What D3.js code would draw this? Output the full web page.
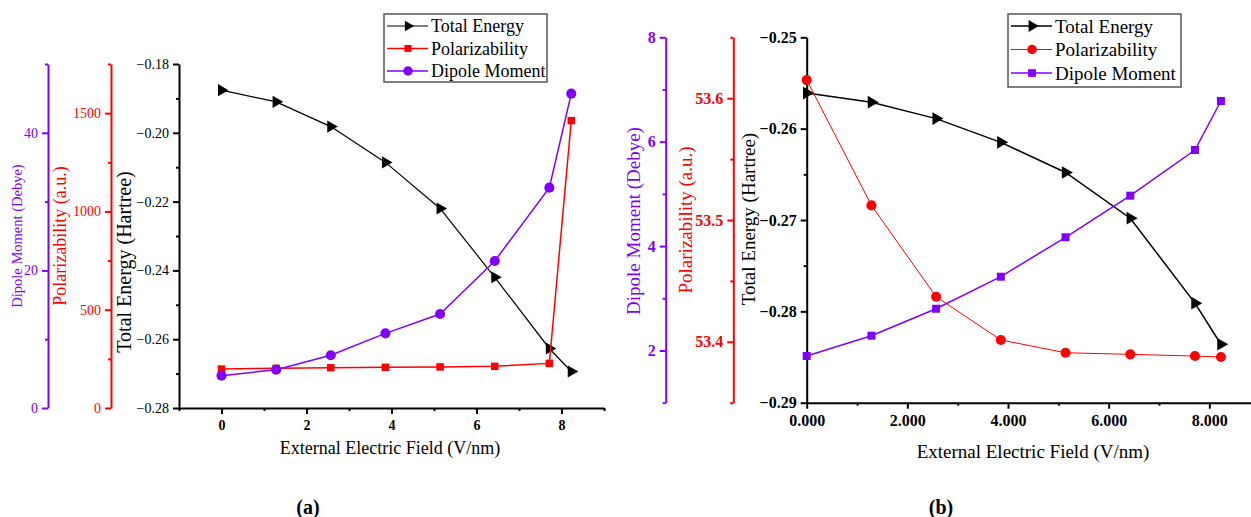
<!DOCTYPE html>
<html>
<head>
<meta charset="utf-8">
<script src="https://cdn.jsdelivr.net/npm/d3@7"></script>
<style>
  body { margin: 0; background: #fff; }
  svg, svg text { font-family: "Liberation Serif", "Times New Roman", Times, Tinos, "DejaVu Serif", "Noto Serif", serif; }
</style>
</head>
<body>
<svg id="chart" width="1251" height="517"></svg>
<script>
// Field values (V/nm), same for both panels
const field = [0, 1.286, 2.571, 3.857, 5.143, 6.429, 7.714, 8.23];

// Panel (a)
const energyA = [-0.1876, -0.1910, -0.1982, -0.2086, -0.2220, -0.2420, -0.2627, -0.2694];
const polarA = [198, 202, 205, 207, 209, 212, 227, 1462];
const dipoleA = [4.7, 5.57, 7.66, 10.85, 13.66, 21.37, 32.03, 45.69];

// Panel (b)
const energyB = [-0.2561, -0.2571, -0.2589, -0.2615, -0.2648, -0.2698, -0.2791, -0.2836];
const polarB = [53.615, 53.512, 53.437, 53.4015, 53.391, 53.3897, 53.3883, 53.3875];
const dipoleB = [1.895, 2.284, 2.80, 3.414, 4.169, 4.966, 5.841, 6.78];

// Tick values
const xTicksA = [0, 2, 4, 6, 8];
const energyTicksA = [-0.28, -0.26, -0.24, -0.22, -0.20, -0.18];
const polarTicksA = [0, 500, 1000, 1500];
const dipoleTicksA = [0, 20, 40];
const xTicksB = [0, 2, 4, 6, 8];
const energyTicksB = [-0.29, -0.28, -0.27, -0.26, -0.25];
const polarTicksB = [53.4, 53.5, 53.6];
const dipoleTicksB = [2, 4, 6, 8];

const seriesNames = ["Total Energy", "Polarizability", "Dipole Moment"];

const BLACK = "#000";
const RED = "#ff0000";
const PURPLE = "#8000ff";
const SERIF = '"Liberation Serif", "Times New Roman", Times, Tinos, "DejaVu Serif", "Noto Serif", serif';

const svg = d3.select("#chart");

// helper: y axis with major + minor ticks
function yAxis(g, scale, x, color, majors, minors, fmt, font, bold) {
  const ax = g.append("g").attr("transform", `translate(${x},0)`);
  ax.call(d3.axisLeft(scale).tickValues(majors).tickFormat(fmt).tickSize(6).tickSizeOuter(0).tickPadding(4));
  const mn = g.append("g").attr("transform", `translate(${x},0)`);
  mn.call(d3.axisLeft(scale).tickValues(minors).tickFormat("").tickSize(3).tickSizeOuter(0));
  mn.select(".domain").remove();
  [ax, mn].forEach((a) => {
    a.attr("font-family", SERIF);
    a.selectAll("path,line").attr("stroke", color).attr("stroke-width", 2);
  });
  ax.selectAll("text")
    .attr("fill", color)
    .attr("font-family", SERIF)
    .style("font-size", font + "px")
    .style("font-weight", bold ? "bold" : "normal");
}

function xAxis(g, scale, y, majors, minors, fmt, font) {
  const ax = g.append("g").attr("transform", `translate(0,${y})`);
  ax.call(d3.axisBottom(scale).tickValues(majors).tickFormat(fmt).tickSize(6).tickSizeOuter(0).tickPadding(6));
  const mn = g.append("g").attr("transform", `translate(0,${y})`);
  mn.call(d3.axisBottom(scale).tickValues(minors).tickFormat("").tickSize(3).tickSizeOuter(0));
  mn.select(".domain").remove();
  [ax, mn].forEach((a) => {
    a.attr("font-family", SERIF);
    a.selectAll("path,line").attr("stroke", BLACK).attr("stroke-width", 2);
  });
  ax.selectAll("text")
    .attr("fill", BLACK)
    .attr("font-family", SERIF)
    .style("font-size", font + "px")
    .style("font-weight", "bold");
}

function vTitle(g, x, y, text, color, font) {
  g.append("text")
    .attr("transform", `translate(${x},${y}) rotate(-90)`)
    .attr("text-anchor", "middle")
    .attr("dy", "0.35em")
    .attr("fill", color)
    .attr("font-family", SERIF)
    .style("font-size", font + "px")
    .text(text);
}

function marker(type, size) {
  const sym = type === "tri" ? d3.symbolTriangle : type === "sq" ? d3.symbolSquare : d3.symbolCircle;
  return d3.symbol().type(sym).size(size)();
}

function drawSeries(g, xs, ys, values, color, type, size, width) {
  const line = d3.line().x((d, i) => xs(field[i])).y((d) => ys(d));
  g.append("path")
    .datum(values)
    .attr("fill", "none")
    .attr("stroke", color)
    .attr("stroke-width", width)
    .attr("d", line);
  g.selectAll(null)
    .data(values)
    .enter()
    .append("path")
    .attr("d", marker(type, size))
    .attr("fill", color)
    .attr("transform", (d, i) => `translate(${xs(field[i])},${ys(d)})` + (type === "tri" ? " rotate(90)" : ""));
}

function legend(g, x, y, w, h, rowGap, items, font) {
  g.append("rect")
    .attr("x", x).attr("y", y).attr("width", w).attr("height", h)
    .attr("fill", "#fff").attr("stroke", "#555").attr("stroke-width", 1.5);
  items.forEach((it, i) => {
    const cy = y + 12 + i * rowGap;
    g.append("line")
      .attr("x1", x + 3).attr("x2", x + 44).attr("y1", cy).attr("y2", cy)
      .attr("stroke", it.color).attr("stroke-width", it.width);
    g.append("path")
      .attr("d", marker(it.type, it.size))
      .attr("fill", it.color)
      .attr("transform", `translate(${x + 24},${cy})` + (it.type === "tri" ? " rotate(90)" : ""));
    g.append("text")
      .attr("x", x + 47).attr("y", cy).attr("dy", "0.35em")
      .attr("font-family", SERIF)
      .style("font-size", font + "px")
      .text(seriesNames[i]);
  });
}

// ---------- Panel (a) ----------
{
  const g = svg.append("g");
  const top = 64, bottom = 408;
  const x = d3.scaleLinear().domain([-1, 9]).range([179, 604]);
  const yE = d3.scaleLinear().domain([-0.28, -0.18]).range([bottom, top]);
  const yP = d3.scaleLinear().domain([0, 1750]).range([bottom, top]);
  const yD = d3.scaleLinear().domain([0, 50]).range([bottom, top]);

  yAxis(g, yD, 48, PURPLE, dipoleTicksA, [10, 30, 50], d3.format("d"), 14, false);
  yAxis(g, yP, 111, RED, polarTicksA, [250, 750, 1250, 1750], d3.format("d"), 14, false);
  yAxis(g, yE, 179, BLACK, energyTicksA, d3.range(-0.27, -0.18, 0.02), d3.format(".2f"), 14, false);
  xAxis(g, x, bottom, xTicksA, [-1, 1, 3, 5, 7, 9], d3.format("d"), 14);

  vTitle(g, 17, 236, "Dipole Moment (Debye)", PURPLE, 14.5);
  vTitle(g, 60, 236, "Polarizability (a.u.)", RED, 18);
  vTitle(g, 124, 262, "Total Energy (Hartree)", BLACK, 20);
  g.append("text").attr("x", 390).attr("y", 454).attr("text-anchor", "middle")
    .attr("font-family", SERIF)
    .style("font-size", "18px").text("External Electric Field (V/nm)");

  drawSeries(g, x, yE, energyA, BLACK, "tri", 64, 1.2);
  drawSeries(g, x, yP, polarA, RED, "sq", 56, 1.5);
  drawSeries(g, x, yD, dipoleA, PURPLE, "circle", 80, 1.5);

  legend(g, 384, 14, 163, 68, 22.5, [
    { color: BLACK, type: "tri", size: 50, width: 1 },
    { color: RED, type: "sq", size: 50, width: 1.5 },
    { color: PURPLE, type: "circle", size: 70, width: 1.5 },
  ], 18);

  g.append("text").attr("x", 308).attr("y", 507).attr("text-anchor", "middle")
    .attr("dy", "0.35em").attr("font-family", SERIF)
    .style("font-size", "20px").style("font-weight", "bold").text("(a)");
}

// ---------- Panel (b) ----------
{
  const g = svg.append("g");
  const top = 37.3, bottom = 402.7;
  const x = d3.scaleLinear().domain([0, 9]).range([806.7, 806.7 + 9 * 50.33]);
  const yE = d3.scaleLinear().domain([-0.29, -0.25]).range([bottom, top]);
  const yP = d3.scaleLinear().domain([53.35, 53.65]).range([bottom, top]);
  const yD = d3.scaleLinear().domain([1, 8]).range([bottom, top]);

  yAxis(g, yD, 665.7, PURPLE, dipoleTicksB, [1, 3, 5, 7], d3.format("d"), 16, true);
  yAxis(g, yP, 733.3, RED, polarTicksB, [53.35, 53.45, 53.55, 53.65], d3.format(".1f"), 16, true);
  yAxis(g, yE, 806.7, BLACK, energyTicksB, [-0.285, -0.275, -0.265, -0.255], d3.format(".2f"), 16, true);
  xAxis(g, x, bottom, xTicksB, [1, 3, 5, 7, 9], d3.format(".3f"), 16);

  vTitle(g, 633, 221, "Dipole Moment (Debye)", PURPLE, 19);
  vTitle(g, 685, 220, "Polarizability (a.u.)", RED, 19);
  vTitle(g, 748, 219, "Total Energy (Hartree)", BLACK, 19);
  g.append("text").attr("x", 1033).attr("y", 458).attr("text-anchor", "middle")
    .attr("font-family", SERIF)
    .style("font-size", "19px").text("External Electric Field (V/nm)");

  drawSeries(g, x, yE, energyB, BLACK, "tri", 70, 1.5);
  drawSeries(g, x, yP, polarB, RED, "circle", 80, 1);
  drawSeries(g, x, yD, dipoleB, PURPLE, "sq", 64, 1.5);

  legend(g, 1008, 14, 173, 73, 23.5, [
    { color: BLACK, type: "tri", size: 60, width: 1.5 },
    { color: RED, type: "circle", size: 70, width: 1 },
    { color: PURPLE, type: "sq", size: 60, width: 1.5 },
  ], 19);

  g.append("text").attr("x", 941).attr("y", 507).attr("text-anchor", "middle")
    .attr("dy", "0.35em").attr("font-family", SERIF)
    .style("font-size", "20px").style("font-weight", "bold").text("(b)");
}
</script>
</body>
</html>
